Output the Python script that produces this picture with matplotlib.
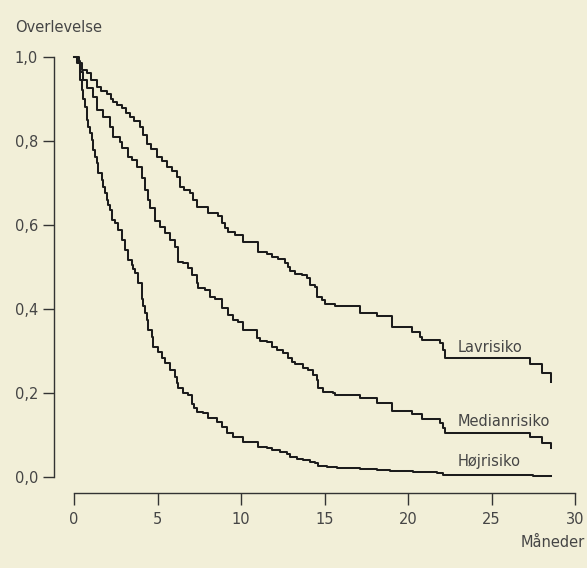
import matplotlib.pyplot as plt
from matplotlib.ticker import FuncFormatter

# Kaplan-Meier curves (months, survival)
lav_t = [0, 0.3, 0.5, 0.76, 1.0, 1.36, 1.6, 1.96, 2.2, 2.35, 2.6, 2.86, 3.1, 3.35, 3.6,
         3.95, 4.15, 4.35, 4.6, 4.95, 5.25, 5.55, 5.85, 6.15, 6.35, 6.6, 6.95, 7.15, 7.35,
         8.04, 8.64, 8.84, 9.04, 9.24, 9.64, 10.14, 11.04, 11.54, 11.84, 12.23, 12.63,
         12.83, 12.93, 13.23, 13.63, 13.93, 14.13, 14.43, 14.53, 14.83, 15.03, 15.63,
         17.13, 18.12, 19.02, 20.22, 20.72, 20.82, 21.92, 22.11, 22.22, 27.31, 28.0, 28.54]
lav_s = [1.0, 0.985, 0.97, 0.961, 0.945, 0.929, 0.92, 0.913, 0.90, 0.893, 0.885, 0.878,
         0.867, 0.857, 0.848, 0.833, 0.815, 0.794, 0.78, 0.763, 0.752, 0.739, 0.728, 0.715,
         0.691, 0.684, 0.676, 0.66, 0.644, 0.628, 0.622, 0.604, 0.594, 0.584, 0.576, 0.560,
         0.535, 0.532, 0.523, 0.518, 0.509, 0.50, 0.491, 0.483, 0.481, 0.473, 0.457, 0.453,
         0.429, 0.421, 0.412, 0.406, 0.391, 0.383, 0.358, 0.346, 0.334, 0.326, 0.318,
         0.302, 0.284, 0.269, 0.247, 0.227]

med_t = [0, 0.16, 0.35, 0.56, 0.76, 1.16, 1.36, 1.76, 2.16, 2.35, 2.75, 2.86, 3.25, 3.45,
         3.75, 4.05, 4.25, 4.45, 4.55, 4.85, 5.15, 5.45, 5.75, 6.05, 6.25, 6.54, 6.84, 7.05,
         7.35, 7.44, 7.84, 8.14, 8.44, 8.84, 9.24, 9.54, 9.84, 10.14, 10.94, 11.14, 11.54,
         11.84, 12.14, 12.53, 12.83, 13.03, 13.23, 13.73, 14.03, 14.33, 14.53, 14.63, 14.93,
         15.53, 15.63, 17.13, 18.12, 19.02, 20.22, 20.82, 21.92, 22.11, 22.22, 27.31, 28.0,
         28.54]
med_s = [1.0, 0.99, 0.965, 0.945, 0.925, 0.905, 0.874, 0.858, 0.834, 0.810, 0.798, 0.783,
         0.763, 0.755, 0.739, 0.711, 0.683, 0.660, 0.640, 0.610, 0.596, 0.580, 0.564, 0.548,
         0.513, 0.509, 0.497, 0.481, 0.461, 0.449, 0.445, 0.429, 0.425, 0.402, 0.386, 0.374,
         0.370, 0.350, 0.330, 0.325, 0.322, 0.310, 0.302, 0.296, 0.283, 0.275, 0.269, 0.259,
         0.255, 0.243, 0.231, 0.211, 0.203, 0.199, 0.195, 0.187, 0.177, 0.158, 0.150, 0.137,
         0.129, 0.116, 0.104, 0.096, 0.080, 0.068]

hoj_t = [0, 0.16, 0.36, 0.46, 0.56, 0.66, 0.76, 0.86, 0.96, 1.06, 1.16, 1.26, 1.36, 1.46,
         1.66, 1.76, 1.86, 1.96, 2.06, 2.16, 2.26, 2.46, 2.65, 2.86, 3.05, 3.25, 3.45, 3.55,
         3.65, 3.85, 4.05, 4.1, 4.15, 4.25, 4.35, 4.45, 4.65, 4.75, 5.05, 5.25, 5.45, 5.75,
         6.05, 6.15, 6.25, 6.54, 6.84, 7.05, 7.2, 7.35, 7.74, 8.04, 8.54, 8.84, 9.14, 9.54,
         10.14, 11.04, 11.54, 11.84, 12.34, 12.73, 12.93, 13.33, 13.73, 14.13, 14.43, 14.63,
         15.13, 15.73, 17.13, 18.12, 18.92, 20.32, 21.72, 22.11, 27.5, 28.54]
hoj_s = [1.0, 0.985, 0.945, 0.921, 0.90, 0.882, 0.850, 0.834, 0.818, 0.802, 0.779, 0.763,
         0.747, 0.723, 0.707, 0.691, 0.676, 0.660, 0.648, 0.636, 0.612, 0.604, 0.588, 0.564,
         0.540, 0.517, 0.505, 0.495, 0.485, 0.461, 0.445, 0.425, 0.406, 0.39, 0.374, 0.350,
         0.334, 0.310, 0.298, 0.283, 0.271, 0.255, 0.239, 0.225, 0.211, 0.199, 0.195, 0.175,
         0.165, 0.155, 0.152, 0.140, 0.132, 0.118, 0.104, 0.096, 0.084, 0.072, 0.068, 0.064,
         0.059, 0.055, 0.048, 0.043, 0.040, 0.036, 0.033, 0.027, 0.023, 0.021, 0.018, 0.016,
         0.015, 0.013, 0.009, 0.005, 0.003, 0.003]

groups = ["Lavrisiko", "Medianrisiko", "Højrisiko"]
label_pos = [(23.0, 0.298), (23.0, 0.121), (23.0, 0.026)]

x_ticks = [0, 5, 10, 15, 20, 25, 30]
y_ticks = [0.0, 0.2, 0.4, 0.6, 0.8, 1.0]

BG = "#f2efd8"
TXT = "#454545"
AX = "#333333"

fig = plt.figure(figsize=(5.87, 5.68), dpi=100, facecolor=BG)
ax = fig.add_axes([74 / 587, 91 / 568, 501 / 587, 420 / 568])
ax.set_facecolor(BG)

for t, s in [(lav_t, lav_s), (med_t, med_s), (hoj_t, hoj_s)]:
    ax.step(t, s, where="post", color="#1c1c1c", lw=1.45, clip_on=False)

for name, (x, y) in zip(groups, label_pos):
    ax.text(x, y, name, fontsize=10.5, color=TXT, va="baseline", ha="left")

ax.set_xlim(0, 30)
ax.set_ylim(0, 1)
ax.set_xticks(x_ticks)
ax.set_yticks(y_ticks)
ax.yaxis.set_major_formatter(FuncFormatter(lambda v, p: f"{v:.1f}".replace(".", ",")))

for side in ["top", "right"]:
    ax.spines[side].set_visible(False)
# offsets in points (dpi 100): 20 px and 16 px
ax.spines["left"].set_position(("outward", 14.4))
ax.spines["bottom"].set_position(("outward", 11.5))
for side in ["left", "bottom"]:
    ax.spines[side].set_color(AX)
    ax.spines[side].set_linewidth(1.0)

ax.tick_params(axis="y", length=8, width=1.0, color=AX, pad=3.5,
               labelsize=10.5, labelcolor=TXT)
ax.tick_params(axis="x", length=8.6, width=1.0, color=AX, pad=5,
               labelsize=10.5, labelcolor=TXT)

fig.text(15 / 587, 1 - 32 / 568, "Overlevelse", fontsize=10.5, color=TXT,
         ha="left", va="baseline")
fig.text(585 / 587, 1 - 547 / 568, "Måneder", fontsize=10.5, color=TXT,
         ha="right", va="baseline")

fig.savefig("out.png", dpi=100, facecolor=BG)
